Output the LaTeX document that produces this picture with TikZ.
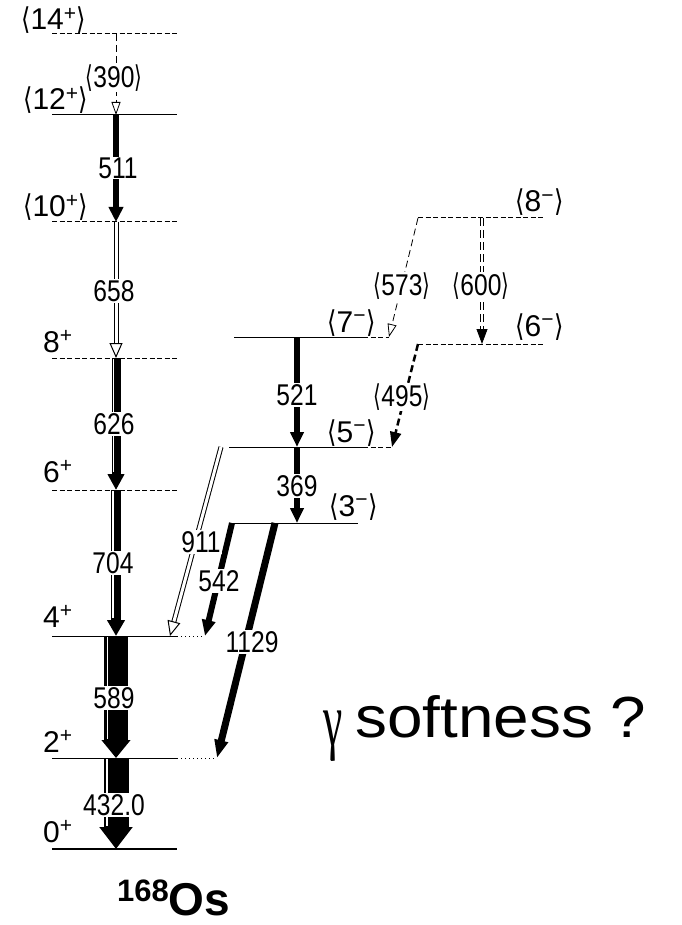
\documentclass[tikz,border=0pt]{standalone}
\usepackage{fontspec}
\setmainfont{Liberation Sans}
\newfontfamily\dv{DejaVu Sans}
\newfontfamily\grk{Liberation Serif}
\usetikzlibrary{arrows.meta,positioning}
\newcommand{\nar}[1]{\scalebox{.82}[1]{#1}}
\newcommand{\lb}{{\dv\scalebox{.8}[1]{⟨}}}
\newcommand{\rb}{{\dv\scalebox{.8}[1]{⟩}}}
\newcommand{\spin}[2]{\lb#1\textsuperscript{#2}\rb}
\tikzset{
  lvl/.style={line width=1pt},
  lvld/.style={line width=1pt,dash pattern=on 5pt off 2.5pt},
  ext/.style={line width=1pt,dash pattern=on 1pt off 3pt},
  gdash/.style={line width=.8pt,dash pattern=on 7pt off 4pt,-{Triangle[open,length=13pt,width=9pt]}},
  gbar/.style n args={3}{line width=#1,-{Triangle[length=#3,width=#2]}},
  gdbl/.style={double,double distance=3pt,line width=1pt,-{Triangle[open,length=15pt,width=13pt]}},
  stripe/.style={white,line width=1.2pt},
  lv/.style={anchor=base west,inner sep=0pt,font=\fontsize{30}{32}\selectfont},
  tlab/.style={fill=white,inner sep=1pt,font=\fontsize{30}{32}\selectfont},
}
\begin{document}
\begin{tikzpicture}[x=1pt,y=-1pt]
  \useasboundingbox (0,0) rectangle (681,925);
  % ground band
  \coordinate (a14) at (52,34);  \coordinate (b14) at (177,34);
  \coordinate (a12) at (52,115); \coordinate (b12) at (177,115);
  \coordinate (a10) at (52,222); \coordinate (b10) at (177,222);
  \coordinate (a8) at (52,358);  \coordinate (b8) at (177,358);
  \coordinate (a6) at (52,490);  \coordinate (b6) at (177,490);
  \coordinate (a4) at (52,636);  \coordinate (b4) at (177,636); \coordinate (x4) at (205,636);
  \coordinate (a2) at (52,758);  \coordinate (b2) at (177,758); \coordinate (x2) at (217,758);
  \coordinate (a0) at (52,849);  \coordinate (b0) at (177,849);
  \draw[lvld] (a14) -- (b14);
  \draw[lvl] (a12) -- (b12);
  \draw[lvld] (a10) -- (b10);
  \draw[lvld] (a8) -- (b8);
  \draw[lvld] (a6) -- (b6);
  \draw[lvl] (a4) -- (b4); \draw[ext] (b4) -- (x4);
  \draw[lvl] (a2) -- (b2); \draw[ext] (b2) -- (x2);
  \draw[line width=2.5pt] (a0) -- (b0);
  % negative parity band
  \coordinate (a8m) at (418,218); \coordinate (b8m) at (545,218);
  \coordinate (a7m) at (234,337); \coordinate (m7m) at (363,337); \coordinate (b7m) at (389,337);
  \coordinate (a6m) at (418,344); \coordinate (b6m) at (545,344);
  \coordinate (a5m) at (229,447); \coordinate (m5m) at (363,447); \coordinate (b5m) at (392,447);
  \coordinate (a3m) at (232,523); \coordinate (b3m) at (358,523);
  \draw[lvld] (a8m) -- (b8m);
  \draw[lvl] (a7m) -- (m7m); \draw[lvld] (m7m) -- (b7m);
  \draw[lvld] (a6m) -- (b6m);
  \draw[lvl] (a5m) -- (m5m); \draw[lvld] (m5m) -- (b5m);
  \draw[lvl] (a3m) -- (b3m);
  % level labels
  \node[lv] (l14) at (21,30) {\spin{14}{+}};
  \node[lv] (l12) at (23,110) {\spin{12}{+}};
  \node[lv] (l10) at (23,217) {\spin{10}{+}};
  \node[lv] (l8) at (43,352) {8\textsuperscript{+}};
  \node[lv] (l6) at (43,482) {6\textsuperscript{+}};
  \node[lv] (l4) at (43,627) {4\textsuperscript{+}};
  \node[lv] (l2) at (43,752) {2\textsuperscript{+}};
  \node[lv] (l0) at (43,842) {0\textsuperscript{+}};
  \node[lv] (l8m) at (515,212) {\spin{8}{−}};
  \node[lv] (l7m) at (327,332) {\spin{7}{−}};
  \node[lv] (l6m) at (515,336) {\spin{6}{−}};
  \node[lv] (l5m) at (327,442) {\spin{5}{−}};
  \node[lv] (l3m) at (329,516) {\spin{3}{−}};
  % transitions
  \coordinate (gx) at (116,0);
  \coordinate (nx) at (297,0);
  \coordinate (px) at (482,0);
  \coordinate (s911) at (221,447);
  \coordinate (e911) at (170,636);
  \coordinate (s1129) at (275,523);
  \draw[gdash] (gx |- a14) -- (gx |- a12);
  \draw[gbar={6pt}{14pt}{15pt}] (gx |- a12) -- (gx |- a10);
  \draw[gdbl] (gx |- a10) -- (gx |- a8);
  \draw[gbar={9pt}{16pt}{16pt}] (gx |- a8) -- (gx |- a6);
  \draw[stripe,transform canvas={xshift=-2.5pt},shorten >=18pt,shorten <=1pt] (gx |- a8) -- (gx |- a6);
  \draw[gbar={10pt}{17pt}{16pt}] (gx |- a6) -- (gx |- a4);
  \draw[stripe,transform canvas={xshift=-3pt},shorten >=18pt,shorten <=1pt] (gx |- a6) -- (gx |- a4);
  \draw[gbar={24pt}{28pt}{18pt}] (gx |- a4) -- (gx |- a2);
  \draw[stripe,transform canvas={xshift=-8.5pt},shorten >=19pt,shorten <=1pt] (gx |- a4) -- (gx |- a2);
  \draw[gbar={25pt}{32pt}{22pt}] (gx |- a2) -- (gx |- a0);
  \draw[stripe,transform canvas={xshift=-9pt},shorten >=23pt,shorten <=1pt] (gx |- a2) -- (gx |- a0);
  \draw[gbar={6pt}{13pt}{15pt}] (nx |- a7m) -- (nx |- a5m);
  \draw[gbar={6pt}{13pt}{15pt}] (nx |- a5m) -- (nx |- a3m);
  \draw[gdash] (a8m) -- (b7m);
  \draw[double,double distance=2pt,line width=.8pt,dash pattern=on 8pt off 4pt,-{Triangle[length=15pt,width=11pt]}] (px |- a8m) -- (px |- a6m);
  \draw[line width=2.5pt,dash pattern=on 7pt off 4pt,-{Triangle[length=15pt,width=11pt]}] (a6m) -- (b5m);
  \draw[gdbl] (s911) -- (e911);
  \draw[gbar={6pt}{13pt}{16pt}] (a3m) -- (x4);
  \draw[gbar={7pt}{13pt}{18pt}] (s1129) -- (x2);
  % transition labels
  \node[tlab] (t390) at (114,78) {\nar{\lb390\rb}};
  \node[tlab] (t511) at (118,168) {\nar{511}};
  \node[tlab] (t658) at (114,291) {\nar{658}};
  \node[tlab] (t626) at (114,424) {\nar{626}};
  \node[tlab] (t704) at (113,563) {\nar{704}};
  \node[tlab] (t589) at (114,698) {\nar{589}};
  \node[tlab] (t432) at (114,805) {\nar{432.0}};
  \node[tlab] (t521) at (297,395) {\nar{521}};
  \node[tlab] (t369) at (297,486) {\nar{369}};
  \node[tlab] (t573) at (402,286) {\nar{\lb573\rb}};
  \node[tlab] (t600) at (481,286) {\nar{\lb600\rb}};
  \node[tlab] (t495) at (402,397) {\nar{\lb495\rb}};
  \node[tlab] (t911) at (201,542) {\nar{911}};
  \node[tlab] (t542) at (219,581) {\nar{542}};
  \node[tlab] (t1129) at (252,642) {\nar{1129}};
  % remarks
  \node[anchor=base west,inner sep=0pt,font=\fontsize{58}{60}\selectfont] (soft) at (323,737)
    {\raisebox{-8pt}{\scalebox{.75}[1.3]{\grk γ}}\hspace{13pt}\scalebox{1.1}[1]{softness ?}};
  \node[anchor=base west,inner sep=0pt,font=\fontsize{46}{50}\selectfont\bfseries] (nuc) at (117,915)
    {\raisebox{14pt}{\fontsize{31}{31}\selectfont 168}Os};
\end{tikzpicture}
\end{document}
